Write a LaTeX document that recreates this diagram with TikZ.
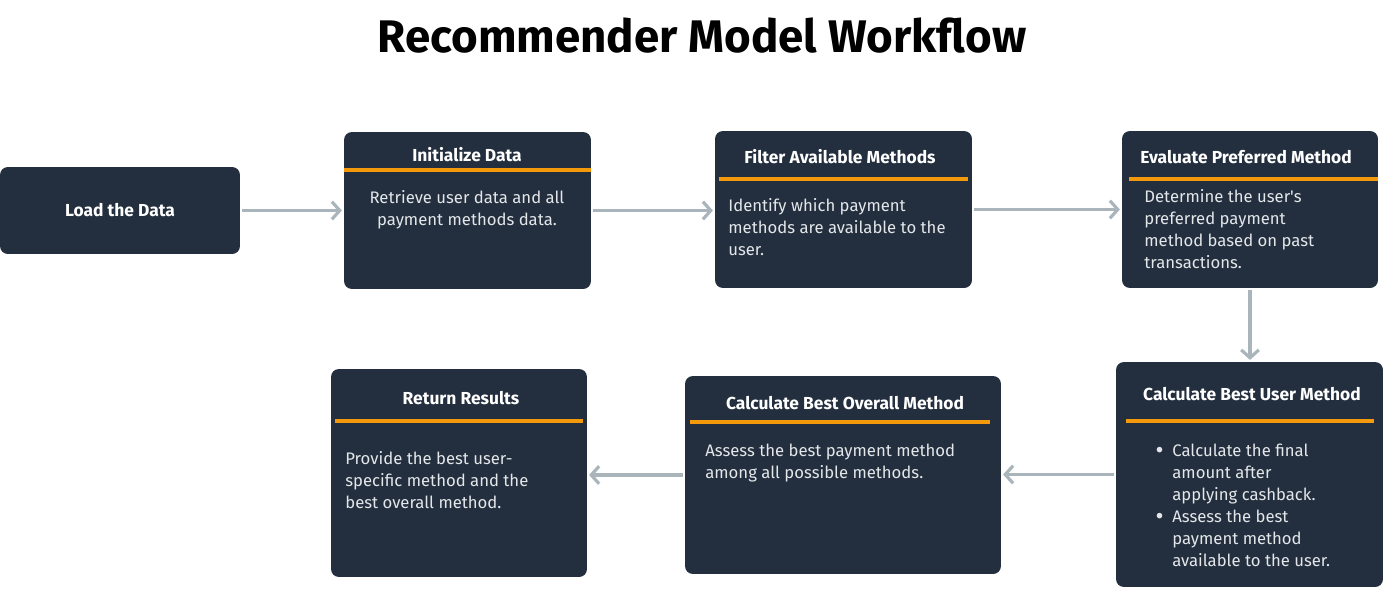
\documentclass[tikz,border=0pt]{standalone}
\usepackage{fontspec}
\setmainfont{Fira Sans}
\usetikzlibrary{arrows.meta}
\definecolor{navy}{HTML}{232F3E}
\definecolor{rule}{HTML}{F4990C}
\definecolor{link}{HTML}{AAB5BB}
\definecolor{body}{HTML}{E4E7EA}
\newcommand{\dotitem}{\llap{\raisebox{-1.2pt}{\fontsize{14}{12.5}\selectfont\textbullet}\hspace{5pt}}}
\tikzstyle{card} = [fill=navy, rounded corners=4.5pt, inner sep=0pt, text=white, font=\bfseries\fontsize{9.9}{12.5}\selectfont]
\tikzstyle{head} = [text=white, font=\bfseries\fontsize{9.9}{12.5}\selectfont, anchor=base, inner sep=0pt]
\tikzstyle{txt} = [text=body, font=\fontsize{9.5}{12.5}\selectfont, align=left, anchor=base west, inner sep=0pt]
\tikzstyle{bar} = [draw=rule, line width=2.3pt]
\tikzstyle{flow} = [draw=link, line width=1.8pt, shorten <=1pt, shorten >=1pt, -{Straight Barb[length=4.5pt,width=10pt]}]

\begin{document}
\begin{tikzpicture}[x=0.02cm, y=-0.02cm]
    \useasboundingbox[fill=white] (0,0) rectangle (1385,595);
    \node (title) at (702,52) [anchor=base, font=\bfseries\fontsize{26}{30}\selectfont] {Recommender Model Workflow};

    \node (load) [card, minimum width=4.8cm, minimum height=1.74cm] at (120,210.5) {Load the Data};
    \node (init) [card, minimum width=4.94cm, minimum height=3.14cm] at (467.5,210.5) {};
    \node (filter) [card, minimum width=5.14cm, minimum height=3.14cm] at (843.5,209.5) {};
    \node (eval) [card, minimum width=5.12cm, minimum height=3.14cm] at (1250,209.5) {};
    \node (user) [card, minimum width=5.34cm, minimum height=4.5cm] at (1249.5,474.5) {};
    \node (overall) [card, minimum width=6.32cm, minimum height=3.96cm] at (843,475) {};
    \node (ret) [card, minimum width=5.12cm, minimum height=4.16cm] at (459,473) {};

    \node (initHead) [head] at (467,161) {Initialize Data};
    \node (filterHead) [head] at (840,163) {Filter Available Methods};
    \node (evalHead) [head] at (1246,163) {Evaluate Preferred Method};
    \node (userHead) [head] at (1252,400) {Calculate Best User Method};
    \node (overallHead) [head] at (845,409) {Calculate Best Overall Method};
    \node (retHead) [head] at (461,404) {Return Results};

    \draw[bar] (344,170) -- (591,170);
    \draw[bar] (719,179) -- (968,179);
    \draw[bar] (1129,179) -- (1378,179);
    \draw[bar] (1126,421) -- (1374,421);
    \draw[bar] (690,422) -- (990,422);
    \draw[bar] (335,421) -- (583,421);

    \node (initText) [txt, align=center, anchor=base] at (467,225) {Retrieve user data and all\\payment methods data.};
    \node (filterText) [txt] at (728,255) {Identify which payment\\methods are available to the\\user.};
    \node (evalText) [txt] at (1144,268) {Determine the user\textquotesingle s\\preferred payment\\method based on past\\transactions.};
    \node (userText) [txt] at (1172,566) {\dotitem Calculate the final\\amount after\\applying cashback.\\\dotitem Assess the best\\payment method\\available to the user.};
    \node (overallText) [txt] at (705,478) {Assess the best payment method\\among all possible methods.};
    \node (retText) [txt] at (345,508) {Provide the best user-\\specific method and the\\best overall method.};

    \draw[flow] (load) -- (init);
    \draw[flow] (init.east) -- (init.east -| filter.west);
    \draw[flow] (filter.east) -- (filter.east -| eval.west);
    \draw[flow] (eval.south) -- (eval.south |- user.north);
    \draw[flow] (user.west) -- (user.west -| overall.east);
    \draw[flow] (overall.west) -- (overall.west -| ret.east);
\end{tikzpicture}
\end{document}
